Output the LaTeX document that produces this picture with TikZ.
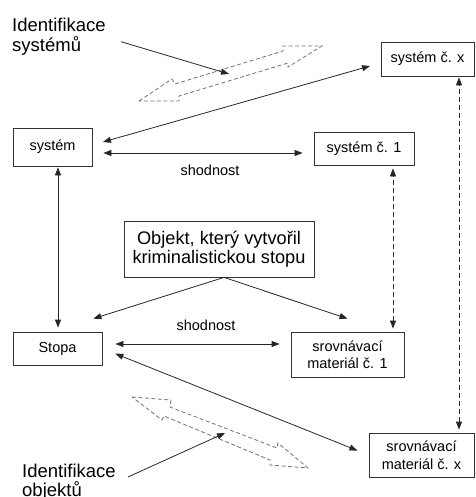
\documentclass[tikz,border=0pt]{standalone}
\usepackage{fontspec}
\setmainfont{Liberation Sans}
\usetikzlibrary{arrows.meta,calc}
\begin{document}
\begin{tikzpicture}[x=1pt,y=-1pt,
  box/.style={draw=black!80, line width=0.8pt, fill=white, inner sep=0pt, align=center,
    font=\fontsize{14.5}{17.5}\selectfont},
  lbl/.style={inner sep=0pt, align=left, font=\fontsize{18.5}{19.5}\selectfont},
  small/.style={inner sep=0pt, font=\fontsize{14.5}{17}\selectfont},
  conn/.style={draw=black!85, line width=0.8pt, {Triangle[length=8pt,width=6pt]}-{Triangle[length=8pt,width=6pt]}},
  oneway/.style={draw=black!85, line width=0.8pt, -{Triangle[length=8pt,width=6pt]}},
  dashconn/.style={conn, dash pattern=on 5pt off 3pt},
  hollow/.style={draw=black!55, line width=0.8pt, dash pattern=on 4pt off 2.5pt, line join=miter}
]
\useasboundingbox (0,0) rectangle (475,497);

% hollow dashed double arrows
\draw[hollow] (139,101) -- (172,79) -- (175,84) -- (283,51) -- (283,46) -- (322,46)
  -- (288,67) -- (288,63) -- (179,96) -- (179,101) -- cycle;
\draw[hollow] (132,397) -- (171,400) -- (170,407) -- (277,448) -- (278,443) -- (308,468)
  -- (270,465) -- (270,460) -- (164,416) -- (162,420) -- cycle;

% boxes
\node[box, minimum width=93pt, minimum height=34pt] (sysx) at (427.5,59) {systém č. x};
\node[box, minimum width=79pt, minimum height=38pt] (sys) at (52.5,147) {systém};
\node[box, minimum width=100pt, minimum height=33pt] (sys1) at (364,148.5) {systém č. 1};
\node[box, minimum width=190pt, minimum height=56pt, font=\fontsize{18.2}{18.5}\selectfont] (obj) at (219,249) {Objekt, který vytvořil\\kriminalistickou stopu};
\node[box, minimum width=89pt, minimum height=33pt] (stopa) at (57.5,348.5) {Stopa};
\node[box, minimum width=113pt, minimum height=45pt] (sm1) at (347.5,354.5) {srovnávací\\materiál č. 1};
\node[box, minimum width=105pt, minimum height=44pt] (smx) at (421.5,455) {srovnávací\\materiál č. x};

% labels (base anchor = baseline of last line)
\node[lbl, anchor=base west] (id1) at (12,51.2) {Identifikace\\systémů};
\node[lbl, anchor=base west] (id2) at (22,496.5) {Identifikace\\objektů};
\node[small] (sh1) at (210,170.5) {shodnost};
\node[small] (sh2) at (206,325) {shodnost};

\coordinate (t1) at (229,74);
\coordinate (t2) at (225,433);

% connectors
\draw[oneway] ([xshift=15pt,yshift=-5pt]id1.east) -- (t1);
\draw[oneway] ([xshift=12pt,yshift=5pt]id2.east) -- (t2);

\draw[conn, shorten <=11pt, shorten >=11pt] ([yshift=2pt]sys.east) -- ([yshift=-4pt]sysx.west);
\draw[conn, shorten <=11pt, shorten >=11pt] ([yshift=-6pt]sys.east) -- ([yshift=-6pt]sys.east -| sys1.west);
\draw[conn, shorten <=4pt, shorten >=1pt] ([xshift=0.5pt]stopa.north) -- ([xshift=0.5pt]stopa.north |- sys.south);
\draw[oneway] ([xshift=5pt]obj.south) -- ([xshift=-9pt,yshift=13pt]stopa.north east);
\draw[oneway] ([xshift=5pt]obj.south) -- ([yshift=13pt]sm1.north);
\draw[conn, shorten <=13pt, shorten >=11pt] ([yshift=4.5pt]stopa.east) -- ([yshift=4.5pt]stopa.east -| sm1.west);
\draw[dashconn, shorten <=3pt, shorten >=3pt] ([xshift=45.5pt]sm1.north) -- ([xshift=45.5pt]sm1.north |- sys1.south);
\draw[dashconn, shorten <=3pt, shorten >=1pt] ([xshift=37.5pt]smx.north) -- ([xshift=37.5pt]smx.north |- sysx.south);
\draw[conn, shorten <=14pt, shorten >=12pt] (stopa.east) -- (smx.west);
\end{tikzpicture}
\end{document}
